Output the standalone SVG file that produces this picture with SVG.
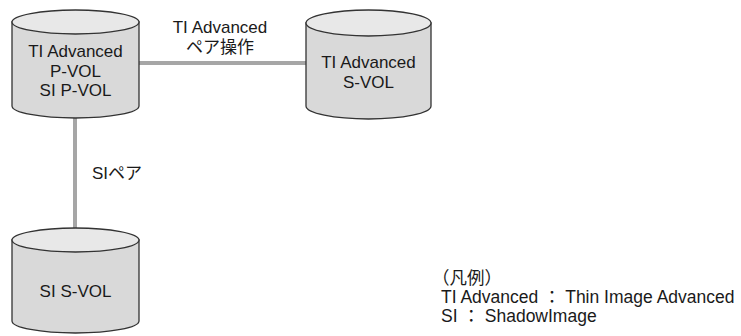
<svg xmlns="http://www.w3.org/2000/svg" width="741" height="336" viewBox="0 0 741 336">
<style>
.body{fill:#d9d9d9;stroke:#333;stroke-width:1.3}
.top{fill:#e8e8e8;stroke:#333;stroke-width:1.3}
.lbl{font-family:"Liberation Sans","Noto Sans CJK JP",sans-serif;font-size:17px;fill:#1a1a1a;text-anchor:middle}
.leg{font-family:"Liberation Sans","Noto Sans CJK JP",sans-serif;font-size:17.5px;fill:#1a1a1a}
.conn{stroke:#a6a6a6;stroke-width:4;fill:none}
</style>
<rect width="741" height="336" fill="#fff"/>
<g id="connectors">
<line class="conn" x1="139" y1="63" x2="306" y2="63"/>
<line class="conn" x1="75" y1="118" x2="75" y2="228"/>
</g>
<g id="node-pvol">
<path class="body" d="M12,22 L12,106 A63.5,12 0 0 0 139,106 L139,22 Z"/>
<ellipse class="top" cx="75.5" cy="22" rx="63.5" ry="12"/>
<text class="lbl" x="75.5" y="57">TI Advanced</text>
<text class="lbl" x="75.5" y="76.5">P-VOL</text>
<text class="lbl" x="75.5" y="95.5">SI P-VOL</text>
</g>
<g id="node-tisvol">
<path class="body" d="M306,23 L306,106 A62.5,13 0 0 0 431,106 L431,23 Z"/>
<ellipse class="top" cx="368.5" cy="23" rx="62.5" ry="13"/>
<text class="lbl" x="368.5" y="68">TI Advanced</text>
<text class="lbl" x="368.5" y="88">S-VOL</text>
</g>
<g id="node-sisvol">
<path class="body" d="M12,240 L12,321 A63.5,12 0 0 0 139,321 L139,240 Z"/>
<ellipse class="top" cx="75.5" cy="240" rx="63.5" ry="12"/>
<text class="lbl" x="75.5" y="297">SI S-VOL</text>
</g>
<g id="labels">
<text class="lbl" x="220" y="33">TI Advanced</text>
<text class="lbl" x="220" y="53">ペア操作</text>
<text class="lbl" x="92" y="179" style="text-anchor:start">SIペア</text>
</g>
<g id="legend">
<text class="leg" x="432" y="284">（凡例）</text>
<text class="leg" x="441" y="303">TI Advanced ： Thin Image Advanced</text>
<text class="leg" x="441" y="322">SI ： ShadowImage</text>
</g>
</svg>
